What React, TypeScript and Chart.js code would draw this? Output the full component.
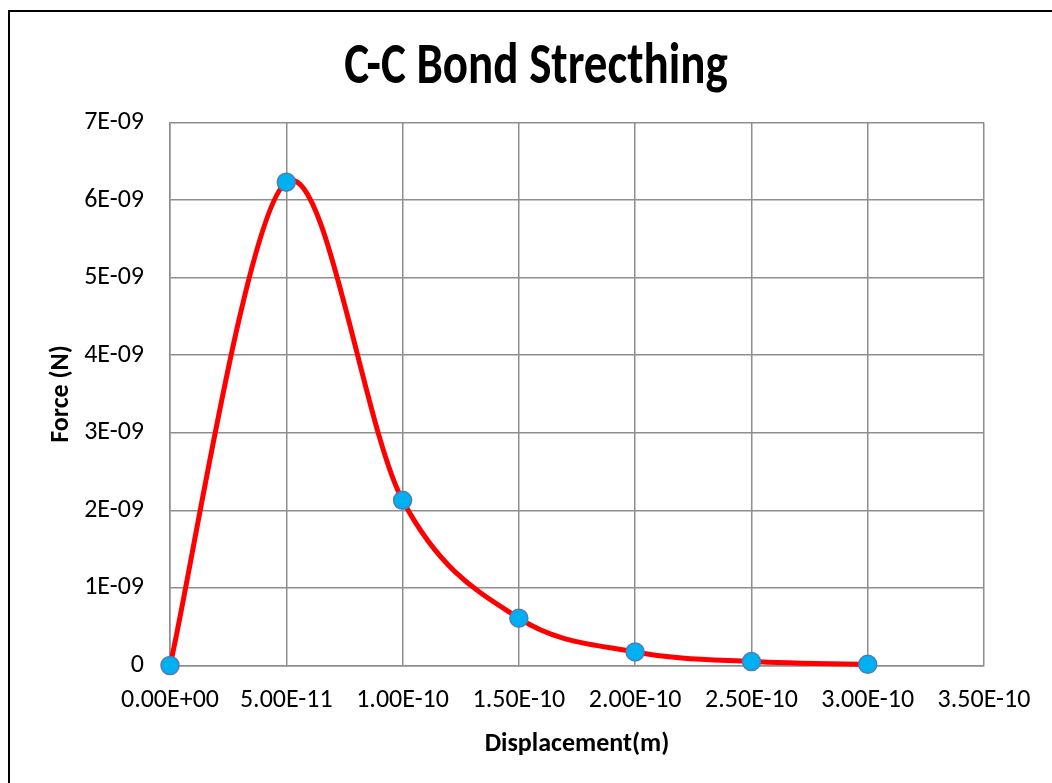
import React, { useEffect, useRef } from "react";
import { Chart, registerables } from "chart.js";

Chart.register(...registerables);

const displacementValues = [0, 5e-11, 1e-10, 1.5e-10, 2e-10, 2.5e-10, 3e-10];
const forceValues = [0, 6.23e-9, 2.13e-9, 6.1e-10, 1.75e-10, 5e-11, 1.5e-11];

const xTickValues = [0, 5e-11, 1e-10, 1.5e-10, 2e-10, 2.5e-10, 3e-10, 3.5e-10];
const xTickLabels = ["0.00E+00", "5.00E-11", "1.00E-10", "1.50E-10", "2.00E-10", "2.50E-10", "3.00E-10", "3.50E-10"];
const yTickValues = [0, 1e-9, 2e-9, 3e-9, 4e-9, 5e-9, 6e-9, 7e-9];
const yTickLabels = ["0", "1E-09", "2E-09", "3E-09", "4E-09", "5E-09", "6E-09", "7E-09"];

const chartTitle = "C-C Bond Strecthing";
const xTitle = "Displacement(m)";
const yTitle = "Force (N)";

const FONT = 'Carlito, "Liberation Sans", Arial, sans-serif';
const GRID = "#8e8e8e";

const titlePlugin = {
  id: "stretchedTitle",
  afterDraw(chart: any) {
    const ctx = chart.ctx;
    ctx.save();
    ctx.font = `bold 47px ${FONT}`;
    ctx.fillStyle = "#000";
    ctx.textAlign = "center";
    ctx.textBaseline = "alphabetic";
    ctx.translate(536, 83);
    ctx.scale(1, 1.26);
    ctx.fillText(chartTitle, 0, 0);
    ctx.restore();
  },
};

// Spreadsheet-style smoothing (Catmull-Rom, 1/6 factor) over the library's own point positions
const smoothPlugin = {
  id: "catmullSmooth",
  beforeDatasetDraw(chart: any, args: any) {
    const meta = chart.getDatasetMeta(args.index);
    const line = meta.dataset;
    if (!line) return;
    line.updateControlPoints(chart.chartArea, "x");
    const pts = meta.data;
    const n = pts.length;
    for (let i = 0; i < n; i++) {
      const p = pts[i];
      const prev = pts[Math.max(0, i - 1)];
      const next = pts[Math.min(n - 1, i + 1)];
      const dx = (next.x - prev.x) / 6;
      const dy = (next.y - prev.y) / 6;
      p.cp1x = p.x - dx;
      p.cp1y = p.y - dy;
      p.cp2x = p.x + dx;
      p.cp2y = p.y + dy;
    }
  },
};

export default function App() {
  const ref = useRef<HTMLCanvasElement | null>(null);

  useEffect(() => {
    if (!ref.current) return;
    Chart.defaults.font.family = FONT;
    Chart.defaults.color = "#000";
    const chart = new Chart(ref.current, {
      type: "line",
      data: {
        datasets: [
          {
            data: displacementValues.map((x, i) => ({ x, y: forceValues[i] })),
            borderColor: "#ff0000",
            borderWidth: 5,
            tension: 0.4,
            capBezierPoints: false,
            pointRadius: 9,
            pointHoverRadius: 9,
            pointBackgroundColor: "#00b0f0",
            pointBorderColor: "#4a7ebb",
            pointBorderWidth: 1.5,
            clip: false as any,
            fill: false,
          },
        ],
      },
      plugins: [smoothPlugin, titlePlugin],
      options: {
        animation: false,
        responsive: false,
        events: [],
        layout: { padding: { left: 41.4, right: 68, top: 122.5, bottom: 19.4 } },
        plugins: {
          legend: { display: false },
          tooltip: { enabled: false },
          title: { display: false },
        },
        scales: {
          x: {
            type: "linear",
            min: 0,
            max: 3.5e-10,
            afterBuildTicks: (s: any) => {
              s.ticks = xTickValues.map((v) => ({ value: v }));
            },
            afterFit: (s: any) => {
              s.height = 98.1;
            },
            ticks: {
              padding: 18.9,
              maxRotation: 0,
              autoSkip: false,
              font: { size: 26, lineHeight: 1.2 },
              color: "#000",
              callback: (_v: any, i: number) => xTickLabels[i],
            },
            grid: { color: GRID, lineWidth: 1.5, drawTicks: false },
            border: { color: GRID, width: 1.5 },
            title: {
              display: true,
              text: xTitle,
              color: "#000",
              font: { size: 26, weight: "bold", lineHeight: 1.2 },
              padding: { top: 4, bottom: 4 },
            },
          },
          y: {
            type: "linear",
            min: 0,
            max: 7e-9,
            afterBuildTicks: (s: any) => {
              s.ticks = yTickValues.map((v) => ({ value: v }));
            },
            afterFit: (s: any) => {
              s.width = 128.6;
            },
            ticks: {
              padding: 26,
              autoSkip: false,
              font: { size: 26, lineHeight: 1.2 },
              color: "#000",
              callback: (_v: any, i: number) => yTickLabels[i],
            },
            grid: { color: GRID, lineWidth: 1.5, drawTicks: false },
            border: { color: GRID, width: 1.5 },
            title: {
              display: true,
              text: yTitle,
              color: "#000",
              font: { size: 26, weight: "bold", lineHeight: 1.2 },
              padding: { top: 4, bottom: 4 },
            },
          },
        },
      } as any,
    });
    return () => chart.destroy();
  }, []);

  return (
    <div style={{ position: "fixed", inset: 0, overflow: "hidden", background: "#fff" }}>
      <div
        style={{
          position: "absolute",
          left: 8,
          top: 10,
          width: 1100,
          height: 900,
          border: "2px solid #000",
        }}
      />
      <canvas
        ref={ref}
        width={1052}
        height={783}
        style={{ position: "absolute", left: 0, top: 0, width: 1052, height: 783 }}
      />
    </div>
  );
}
